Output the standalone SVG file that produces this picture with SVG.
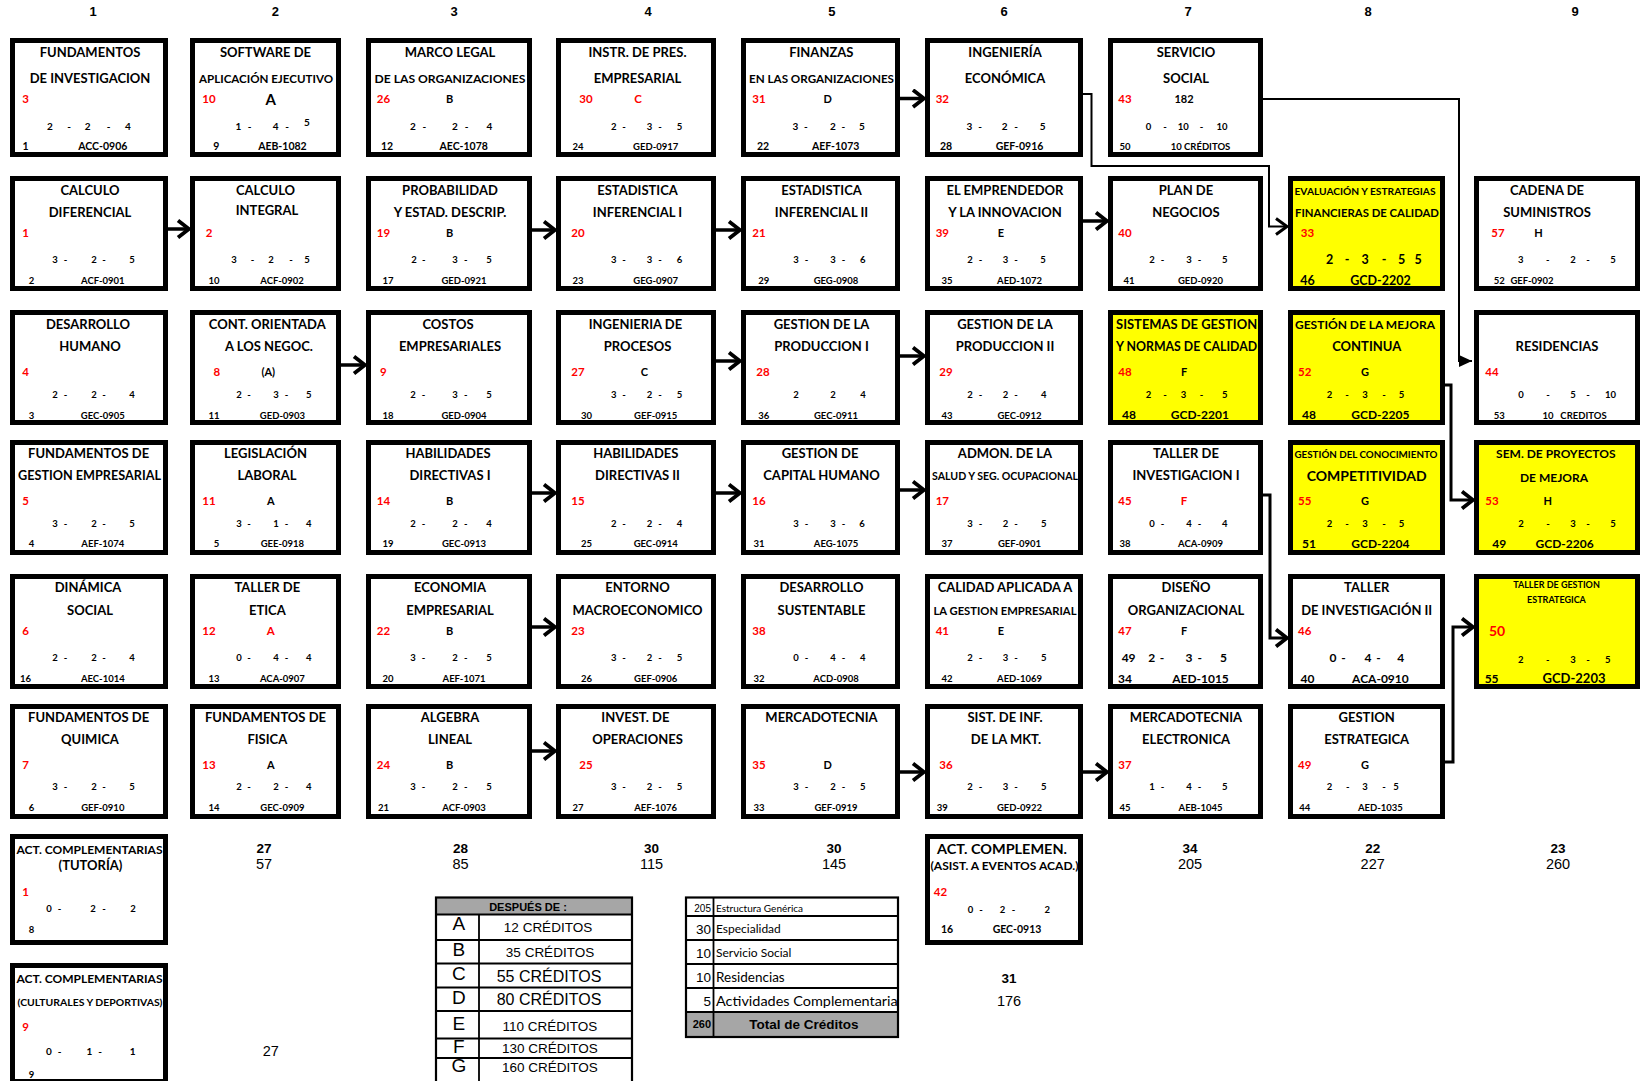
<svg xmlns="http://www.w3.org/2000/svg" width="1642" height="1081" viewBox="0 0 1642 1081">
<style>
.bx{fill:#fff;stroke:#000;stroke-width:5}
.yl{fill:#ff0}
.n text{font-family:Lato,Carlito,"Liberation Sans",sans-serif;font-weight:bold;text-anchor:middle;fill:#000}
.t{font-size:13px}
.s{font-size:11.5px}
.r{font-size:11.5px;fill:#f00 !important}
.l{font-size:11px}
.c{font-size:10px}
.cs{font-size:9.5px}
.b{font-size:10.5px}
.bs{font-size:9.5px}
.c2{font-size:12.5px}
.hd{font-family:"Liberation Sans",Arial,sans-serif;font-weight:bold;font-size:13px;text-anchor:middle}
.tb{font-family:"Liberation Sans",Arial,sans-serif;font-weight:bold;font-size:13.5px;text-anchor:middle}
.tr{font-family:"Liberation Sans",Arial,sans-serif;font-size:14.5px;text-anchor:middle}
.ar{fill:none;stroke:#000;stroke-width:3.5;marker-end:url(#ah)}
.el{fill:none;stroke:#000;stroke-width:3;marker-end:url(#ah)}
.th{fill:none;stroke:#000;stroke-width:1.8}
.ta{font-family:"Liberation Sans",Arial,sans-serif}
.tc{font-family:Lato,Carlito,sans-serif}
</style>
<defs>
<marker id="ah" viewBox="0 0 16 20" refX="13" refY="10" markerWidth="16" markerHeight="20" markerUnits="userSpaceOnUse" orient="auto"><path d="M2,1.5 L13,10 L2,18.5" fill="none" stroke="#000" stroke-width="3.8"/></marker>
<marker id="ah2" viewBox="0 0 16 20" refX="13" refY="10" markerWidth="16" markerHeight="20" markerUnits="userSpaceOnUse" orient="auto"><path d="M2,2 L13,10 L2,18" fill="none" stroke="#000" stroke-width="3"/></marker>
<marker id="tri" viewBox="0 0 13 12" refX="13" refY="6" markerWidth="13" markerHeight="12" markerUnits="userSpaceOnUse" orient="auto"><path d="M0,0 L13,6 L0,12 z" fill="#000"/></marker>
<clipPath id="t2clip"><rect x="686" y="897" width="211" height="140"/></clipPath>
</defs>
<rect width="1642" height="1081" fill="#fff"/>

<g id="headers" class="hd">
<text x="93" y="16.3">1</text><text x="275.3" y="16.3">2</text><text x="454.2" y="16.3">3</text><text x="648" y="16.3">4</text><text x="831.8" y="16.3">5</text><text x="1004" y="16.3">6</text><text x="1188" y="16.3">7</text><text x="1368" y="16.3">8</text><text x="1575" y="16.3">9</text>
</g>

<!-- ROW 1 -->
<g id="n-fund-inv" class="n" transform="translate(10,38)"><rect class="bx" x="2.5" y="2.5" width="153" height="114"/>
<text class="t" x="80" y="19.4">FUNDAMENTOS</text><text class="t" x="80" y="44.5">DE INVESTIGACION</text>
<text class="r" x="15.6" y="64.8">3</text>
<text class="c" y="91.6"><tspan x="40">2</tspan><tspan x="59">-</tspan><tspan x="77.7">2</tspan><tspan x="98.7">-</tspan><tspan x="118">4</tspan></text>
<text class="b" y="111.7"><tspan x="15.6">1</tspan><tspan x="92.8">ACC-0906</tspan></text></g>

<g id="n-software" class="n" transform="translate(190,38)"><rect class="bx" x="2.5" y="2.5" width="146" height="114"/>
<text class="t" x="75.5" y="19.4">SOFTWARE DE</text><text class="s" x="76" y="44.5" textLength="134" lengthAdjust="spacingAndGlyphs">APLICACIÓN EJECUTIVO</text>
<text class="r" x="19" y="64.8">10</text><text x="80.8" y="66.5" style="font-size:15px">A</text>
<text class="c" y="91.6"><tspan x="48.5">1</tspan><tspan x="59.7">-</tspan><tspan x="85.7">4</tspan><tspan x="97">-</tspan><tspan x="117" dy="-3.5">5</tspan></text>
<text class="b" y="111.7"><tspan x="26.4">9</tspan><tspan x="92.4">AEB-1082</tspan></text></g>

<g id="n-marco" class="n" transform="translate(366,38)"><rect class="bx" x="2.5" y="2.5" width="161" height="114"/>
<text class="t" x="84" y="19.4">MARCO LEGAL</text><text class="s" x="84" y="44.5" textLength="151" lengthAdjust="spacingAndGlyphs">DE LAS ORGANIZACIONES</text>
<text class="r" x="17.4" y="64.8">26</text><text class="l" x="83.7" y="64.8">B</text>
<text class="c" y="91.6"><tspan x="46.8">2</tspan><tspan x="58.4">-</tspan><tspan x="89">2</tspan><tspan x="100.5">-</tspan><tspan x="123.3">4</tspan></text>
<text class="b" y="111.7"><tspan x="21">12</tspan><tspan x="97.7">AEC-1078</tspan></text></g>

<g id="n-instr" class="n" transform="translate(556,38)"><rect class="bx" x="2.5" y="2.5" width="155" height="114"/>
<text class="t" x="81.5" y="19.4">INSTR. DE PRES.</text><text class="t" x="81.5" y="44.5">EMPRESARIAL</text>
<text class="r" x="30" y="64.8">30</text><text class="r" x="82" y="64.8">C</text>
<text class="cs" y="91.6"><tspan x="57.7">2</tspan><tspan x="68">-</tspan><tspan x="93.4">3</tspan><tspan x="104">-</tspan><tspan x="123.6">5</tspan></text>
<text class="bs" y="111.7"><tspan x="21.9">24</tspan><tspan x="99.7">GED-0917</tspan></text></g>

<g id="n-finanzas" class="n" transform="translate(741,38)"><rect class="bx" x="2.5" y="2.5" width="154" height="114"/>
<text class="t" x="80.3" y="19.4">FINANZAS</text><text class="s" x="80.5" y="44.5" textLength="145" lengthAdjust="spacingAndGlyphs">EN LAS ORGANIZACIONES</text>
<text class="r" x="17.9" y="64.8">31</text><text class="l" x="86.6" y="64.8">D</text>
<text class="c" y="91.6"><tspan x="54.3">3</tspan><tspan x="64.9">-</tspan><tspan x="91.9">2</tspan><tspan x="102.4">-</tspan><tspan x="121">5</tspan></text>
<text class="b" y="111.7"><tspan x="22">22</tspan><tspan x="94.7">AEF-1073</tspan></text></g>

<g id="n-ingeco" class="n" transform="translate(925,38)"><rect class="bx" x="2.5" y="2.5" width="153" height="114"/>
<text class="t" x="80" y="19.4">INGENIERÍA</text><text class="t" x="80" y="44.5">ECONÓMICA</text>
<text class="r" x="17.3" y="64.8">32</text>
<text class="c" y="91.6"><tspan x="44.3">3</tspan><tspan x="55">-</tspan><tspan x="79.7">2</tspan><tspan x="91">-</tspan><tspan x="117.6">5</tspan></text>
<text class="b" y="111.7"><tspan x="21">28</tspan><tspan x="94.5">GEF-0916</tspan></text></g>

<g id="n-servicio" class="n" transform="translate(1108,38)"><rect class="bx" x="2.5" y="2.5" width="150" height="114"/>
<text class="t" x="78" y="19.4">SERVICIO</text><text class="t" x="78" y="44.5">SOCIAL</text>
<text class="r" x="17" y="64.8">43</text><text class="l" x="76" y="64.8">182</text>
<text class="cs" y="91.6"><tspan x="40.6">0</tspan><tspan x="57">-</tspan><tspan x="75.3">10</tspan><tspan x="93.5">-</tspan><tspan x="114">10</tspan></text>
<text class="bs" y="111.7"><tspan x="17">50</tspan><tspan x="92.5">10 CRÉDITOS</tspan></text></g>

<!-- ROW 2 -->
<g id="n-calcdif" class="n" transform="translate(10,176)"><rect class="bx" x="2.5" y="2.5" width="153" height="110"/>
<text class="t" x="80" y="19.3">CALCULO</text><text class="t" x="80" y="41.3">DIFERENCIAL</text>
<text class="r" x="15.6" y="60.6">1</text>
<text class="cs" y="87.3"><tspan x="45">3</tspan><tspan x="55.6">-</tspan><tspan x="84">2</tspan><tspan x="94">-</tspan><tspan x="122">5</tspan></text>
<text class="bs" y="108.4"><tspan x="21.6">2</tspan><tspan x="92.8">ACF-0901</tspan></text></g>

<g id="n-calcint" class="n" transform="translate(190,176)"><rect class="bx" x="2.5" y="2.5" width="146" height="110"/>
<text class="t" x="75.5" y="19.3">CALCULO</text><text class="t" x="77" y="38.7">INTEGRAL</text>
<text class="r" x="19" y="60.6">2</text>
<text class="cs" y="87.3"><tspan x="44">3</tspan><tspan x="62.5">-</tspan><tspan x="81">2</tspan><tspan x="101">-</tspan><tspan x="117">5</tspan></text>
<text class="bs" y="108.4"><tspan x="24">10</tspan><tspan x="92">ACF-0902</tspan></text></g>

<g id="n-prob" class="n" transform="translate(366,176)"><rect class="bx" x="2.5" y="2.5" width="161" height="110"/>
<text class="t" x="84" y="19.3">PROBABILIDAD</text><text class="t" x="84" y="41.3">Y ESTAD. DESCRIP.</text>
<text class="r" x="17.4" y="60.6">19</text><text class="l" x="83.7" y="60.6">B</text>
<text class="cs" y="87.3"><tspan x="48">2</tspan><tspan x="57.7">-</tspan><tspan x="89">3</tspan><tspan x="99.8">-</tspan><tspan x="123">5</tspan></text>
<text class="bs" y="108.4"><tspan x="22">17</tspan><tspan x="98">GED-0921</tspan></text></g>

<g id="n-estinf1" class="n" transform="translate(556,176)"><rect class="bx" x="2.5" y="2.5" width="155" height="110"/>
<text class="t" x="81.5" y="19.3">ESTADISTICA</text><text class="t" x="81.5" y="41.3">INFERENCIAL I</text>
<text class="r" x="21.9" y="60.6">20</text>
<text class="cs" y="87.3"><tspan x="57.7">3</tspan><tspan x="68">-</tspan><tspan x="93.4">3</tspan><tspan x="104">-</tspan><tspan x="123.6">6</tspan></text>
<text class="bs" y="108.4"><tspan x="21.9">23</tspan><tspan x="99.7">GEG-0907</tspan></text></g>

<g id="n-estinf2" class="n" transform="translate(741,176)"><rect class="bx" x="2.5" y="2.5" width="154" height="110"/>
<text class="t" x="80.5" y="19.3">ESTADISTICA</text><text class="t" x="80.5" y="41.3">INFERENCIAL II</text>
<text class="r" x="17.9" y="60.6">21</text>
<text class="cs" y="87.3"><tspan x="55">3</tspan><tspan x="65.5">-</tspan><tspan x="92">3</tspan><tspan x="102.4">-</tspan><tspan x="121.7">6</tspan></text>
<text class="bs" y="108.4"><tspan x="22.8">29</tspan><tspan x="95">GEG-0908</tspan></text></g>

<g id="n-emprend" class="n" transform="translate(925,176)"><rect class="bx" x="2.5" y="2.5" width="153" height="110"/>
<text class="t" x="80" y="19.3">EL EMPRENDEDOR</text><text class="t" x="80" y="41.3">Y LA INNOVACION</text>
<text class="r" x="17.3" y="60.6">39</text><text class="l" x="76" y="60.6">E</text>
<text class="cs" y="87.3"><tspan x="45">2</tspan><tspan x="55.5">-</tspan><tspan x="80.5">3</tspan><tspan x="91">-</tspan><tspan x="118">5</tspan></text>
<text class="bs" y="108.4"><tspan x="21.9">35</tspan><tspan x="94.5">AED-1072</tspan></text></g>

<g id="n-plan" class="n" transform="translate(1108,176)"><rect class="bx" x="2.5" y="2.5" width="150" height="110"/>
<text class="t" x="78" y="19.3">PLAN DE</text><text class="t" x="78" y="41.3">NEGOCIOS</text>
<text class="r" x="17" y="60.6">40</text>
<text class="cs" y="87.3"><tspan x="44">2</tspan><tspan x="54.6">-</tspan><tspan x="81">3</tspan><tspan x="91.4">-</tspan><tspan x="116.7">5</tspan></text>
<text class="bs" y="108.4"><tspan x="21">41</tspan><tspan x="92.5">GED-0920</tspan></text></g>

<g id="n-evaluacion" class="n" transform="translate(1288,176)"><rect class="bx yl" x="2.5" y="2.5" width="152" height="110"/>
<text x="77" y="18.5" style="font-size:10px" textLength="141" lengthAdjust="spacingAndGlyphs">EVALUACIÓN Y ESTRATEGIAS</text><text class="s" x="79" y="41.3" textLength="144" lengthAdjust="spacingAndGlyphs">FINANCIERAS DE CALIDAD</text>
<text class="r" x="19.5" y="60.6">33</text>
<text class="c2" y="88"><tspan x="41.6">2</tspan><tspan x="59">-</tspan><tspan x="77">3</tspan><tspan x="96">-</tspan><tspan x="113.5">5</tspan><tspan x="130">5</tspan></text>
<text class="c2" y="109"><tspan x="19.5">46</tspan><tspan x="92.4">GCD-2202</tspan></text></g>

<g id="n-cadena" class="n" transform="translate(1474,176)"><rect class="bx" x="2.5" y="2.5" width="161" height="110"/>
<text class="t" x="73" y="19.3">CADENA DE</text><text class="t" x="73" y="41.3">SUMINISTROS</text>
<text class="r" x="24" y="60.6">57</text><text class="l" x="64.6" y="60.6">H</text>
<text class="cs" y="87.3"><tspan x="46.7">3</tspan><tspan x="73.7">-</tspan><tspan x="99">2</tspan><tspan x="114">-</tspan><tspan x="139">5</tspan></text>
<text class="bs" y="108.4"><tspan x="25.3">52</tspan><tspan x="58">GEF-0902</tspan></text></g>

<!-- ROW 3 -->
<g id="n-deshum" class="n" transform="translate(10,310)"><rect class="bx" x="2.5" y="2.5" width="153" height="110"/>
<text class="t" x="78" y="19.3">DESARROLLO</text><text class="t" x="80" y="41.3">HUMANO</text>
<text class="r" x="15.6" y="65.9">4</text>
<text class="cs" y="88.4"><tspan x="45">2</tspan><tspan x="55.6">-</tspan><tspan x="84">2</tspan><tspan x="94">-</tspan><tspan x="122">4</tspan></text>
<text class="bs" y="108.5"><tspan x="21.6">3</tspan><tspan x="92.8">GEC-0905</tspan></text></g>

<g id="n-contor" class="n" transform="translate(190,310)"><rect class="bx" x="2.5" y="2.5" width="146" height="110"/>
<text class="t" x="77.3" y="19.3">CONT. ORIENTADA</text><text class="t" x="79" y="41.3">A LOS NEGOC.</text>
<text class="r" x="26.8" y="65.9">8</text><text class="l" x="78.3" y="65.9">(A)</text>
<text class="cs" y="88.4"><tspan x="49">2</tspan><tspan x="59">-</tspan><tspan x="86">3</tspan><tspan x="96.6">-</tspan><tspan x="118.7">5</tspan></text>
<text class="bs" y="108.5"><tspan x="24">11</tspan><tspan x="92.4">GED-0903</tspan></text></g>

<g id="n-costos" class="n" transform="translate(366,310)"><rect class="bx" x="2.5" y="2.5" width="161" height="110"/>
<text class="t" x="82" y="19.3">COSTOS</text><text class="t" x="84" y="41.3">EMPRESARIALES</text>
<text class="r" x="17.4" y="65.9">9</text>
<text class="cs" y="88.4"><tspan x="47">2</tspan><tspan x="57.4">-</tspan><tspan x="89">3</tspan><tspan x="99.8">-</tspan><tspan x="123">5</tspan></text>
<text class="bs" y="108.5"><tspan x="22">18</tspan><tspan x="98">GED-0904</tspan></text></g>

<g id="n-ingproc" class="n" transform="translate(556,310)"><rect class="bx" x="2.5" y="2.5" width="155" height="110"/>
<text class="t" x="79.4" y="19.3">INGENIERIA DE</text><text class="t" x="81.5" y="41.3">PROCESOS</text>
<text class="r" x="21.9" y="65.9">27</text><text class="l" x="88.5" y="65.9">C</text>
<text class="cs" y="88.4"><tspan x="57.7">3</tspan><tspan x="68">-</tspan><tspan x="93.4">2</tspan><tspan x="104">-</tspan><tspan x="123.6">5</tspan></text>
<text class="bs" y="108.5"><tspan x="30.6">30</tspan><tspan x="99.7">GEF-0915</tspan></text></g>

<g id="n-prod1" class="n" transform="translate(741,310)"><rect class="bx" x="2.5" y="2.5" width="154" height="110"/>
<text class="t" x="80.5" y="19.3">GESTION DE LA</text><text class="t" x="80.5" y="41.3">PRODUCCION I</text>
<text class="r" x="22" y="65.9">28</text>
<text class="cs" y="88.4"><tspan x="55">2</tspan><tspan x="92">2</tspan><tspan x="122">4</tspan></text>
<text class="bs" y="108.5"><tspan x="22.8">36</tspan><tspan x="95">GEC-0911</tspan></text></g>

<g id="n-prod2" class="n" transform="translate(925,310)"><rect class="bx" x="2.5" y="2.5" width="153" height="110"/>
<text class="t" x="80" y="19.3">GESTION DE LA</text><text class="t" x="80" y="41.3">PRODUCCION II</text>
<text class="r" x="21" y="65.9">29</text>
<text class="cs" y="88.4"><tspan x="45">2</tspan><tspan x="55.5">-</tspan><tspan x="80.5">2</tspan><tspan x="91">-</tspan><tspan x="118.7">4</tspan></text>
<text class="bs" y="108.5"><tspan x="21.9">43</tspan><tspan x="94.5">GEC-0912</tspan></text></g>

<g id="n-sistemas" class="n" transform="translate(1108,310)"><rect class="bx yl" x="2.5" y="2.5" width="150" height="110"/>
<text class="t" x="78.6" y="19.3" textLength="141" lengthAdjust="spacingAndGlyphs">SISTEMAS DE GESTION</text><text class="t" x="78.6" y="41.3" textLength="141" lengthAdjust="spacingAndGlyphs">Y NORMAS DE CALIDAD</text>
<text class="r" x="17" y="65.9">48</text><text class="l" x="76" y="65.9">F</text>
<text class="cs" y="88.4"><tspan x="40.6">2</tspan><tspan x="57">-</tspan><tspan x="75.6">3</tspan><tspan x="93.5">-</tspan><tspan x="116.7">5</tspan></text>
<text style="font-size:12px" y="109"><tspan x="21">48</tspan><tspan x="91.8">GCD-2201</tspan></text></g>

<g id="n-mejora" class="n" transform="translate(1288,310)"><rect class="bx yl" x="2.5" y="2.5" width="152" height="110"/>
<text class="s" x="77" y="19.3" textLength="140" lengthAdjust="spacingAndGlyphs">GESTIÓN  DE LA MEJORA</text><text class="t" x="78.7" y="41.3">CONTINUA</text>
<text class="r" x="16.7" y="65.9">52</text><text class="l" x="77" y="65.9">G</text>
<text class="cs" y="88.4"><tspan x="41.6">2</tspan><tspan x="59">-</tspan><tspan x="77">3</tspan><tspan x="96">-</tspan><tspan x="113.5">5</tspan></text>
<text style="font-size:12px" y="109"><tspan x="20.9">48</tspan><tspan x="92.4">GCD-2205</tspan></text></g>

<g id="n-residencias" class="n" transform="translate(1474,310)"><rect class="bx" x="2.5" y="2.5" width="161" height="110"/>
<text class="t" x="83" y="41.3">RESIDENCIAS</text>
<text class="r" x="18" y="65.9">44</text>
<text class="cs" y="88.4"><tspan x="47">0</tspan><tspan x="74">-</tspan><tspan x="99">5</tspan><tspan x="114">-</tspan><tspan x="136.5">10</tspan></text>
<text class="bs" y="108.5"><tspan x="25.3">53</tspan><tspan x="74">10</tspan><tspan x="109.5">CREDITOS</tspan></text></g>

<!-- ROW 4 -->
<g id="n-fundgest" class="n" transform="translate(10,440)"><rect class="bx" x="2.5" y="2.5" width="153" height="110"/>
<text class="t" x="78.6" y="18.1">FUNDAMENTOS DE</text><text class="t" x="79.5" y="40.1" textLength="143" lengthAdjust="spacingAndGlyphs">GESTION EMPRESARIAL</text>
<text class="r" x="15.6" y="64.7">5</text>
<text class="cs" y="87.2"><tspan x="45">3</tspan><tspan x="55.6">-</tspan><tspan x="84">2</tspan><tspan x="94">-</tspan><tspan x="122">5</tspan></text>
<text class="bs" y="107.3"><tspan x="21.6">4</tspan><tspan x="92.8">AEF-1074</tspan></text></g>

<g id="n-legis" class="n" transform="translate(190,440)"><rect class="bx" x="2.5" y="2.5" width="146" height="110"/>
<text class="t" x="75.5" y="18.1">LEGISLACIÓN</text><text class="t" x="77" y="40.1">LABORAL</text>
<text class="r" x="19" y="64.7">11</text><text class="l" x="80.8" y="64.7">A</text>
<text class="cs" y="87.2"><tspan x="49">3</tspan><tspan x="59">-</tspan><tspan x="86">1</tspan><tspan x="96.6">-</tspan><tspan x="118.7">4</tspan></text>
<text class="bs" y="107.3"><tspan x="26.4">5</tspan><tspan x="92.4">GEE-0918</tspan></text></g>

<g id="n-habdir1" class="n" transform="translate(366,440)"><rect class="bx" x="2.5" y="2.5" width="161" height="110"/>
<text class="t" x="82" y="18.1">HABILIDADES</text><text class="t" x="84" y="40.1">DIRECTIVAS I</text>
<text class="r" x="17.4" y="64.7">14</text><text class="l" x="83.7" y="64.7">B</text>
<text class="cs" y="87.2"><tspan x="47">2</tspan><tspan x="57.4">-</tspan><tspan x="89">2</tspan><tspan x="99.8">-</tspan><tspan x="123">4</tspan></text>
<text class="bs" y="107.3"><tspan x="22">19</tspan><tspan x="98">GEC-0913</tspan></text></g>

<g id="n-habdir2" class="n" transform="translate(556,440)"><rect class="bx" x="2.5" y="2.5" width="155" height="110"/>
<text class="t" x="79.8" y="18.1">HABILIDADES</text><text class="t" x="81.5" y="40.1">DIRECTIVAS II</text>
<text class="r" x="21.9" y="64.7">15</text>
<text class="cs" y="87.2"><tspan x="57.7">2</tspan><tspan x="68">-</tspan><tspan x="93.4">2</tspan><tspan x="104">-</tspan><tspan x="123.6">4</tspan></text>
<text class="bs" y="107.3"><tspan x="30.6">25</tspan><tspan x="99.7">GEC-0914</tspan></text></g>

<g id="n-caphum" class="n" transform="translate(741,440)"><rect class="bx" x="2.5" y="2.5" width="154" height="110"/>
<text class="t" x="79" y="18.1">GESTION DE</text><text class="t" x="80.5" y="40.1">CAPITAL HUMANO</text>
<text class="r" x="17.9" y="64.7">16</text>
<text class="cs" y="87.2"><tspan x="55">3</tspan><tspan x="65.5">-</tspan><tspan x="92">3</tspan><tspan x="102.4">-</tspan><tspan x="121">6</tspan></text>
<text class="bs" y="107.3"><tspan x="17.9">31</tspan><tspan x="95">AEG-1075</tspan></text></g>

<g id="n-admon" class="n" transform="translate(925,440)"><rect class="bx" x="2.5" y="2.5" width="153" height="110"/>
<text class="t" x="80" y="18.1">ADMON. DE LA</text><text class="s" x="80" y="40.1" textLength="146" lengthAdjust="spacingAndGlyphs">SALUD Y SEG. OCUPACIONAL</text>
<text class="r" x="17.3" y="64.7">17</text>
<text class="cs" y="87.2"><tspan x="45">3</tspan><tspan x="55.5">-</tspan><tspan x="80.5">2</tspan><tspan x="91">-</tspan><tspan x="118.7">5</tspan></text>
<text class="bs" y="107.3"><tspan x="21.9">37</tspan><tspan x="94.5">GEF-0901</tspan></text></g>

<g id="n-tallinv1" class="n" transform="translate(1108,440)"><rect class="bx" x="2.5" y="2.5" width="150" height="110"/>
<text class="t" x="78" y="18.1">TALLER DE</text><text class="t" x="78" y="40.1">INVESTIGACION I</text>
<text class="r" x="17" y="64.7">45</text><text class="r" x="76" y="64.7">F</text>
<text class="cs" y="87.2"><tspan x="44">0</tspan><tspan x="54.6">-</tspan><tspan x="81">4</tspan><tspan x="91.4">-</tspan><tspan x="116.7">4</tspan></text>
<text class="bs" y="107.3"><tspan x="17">38</tspan><tspan x="92.5">ACA-0909</tspan></text></g>

<g id="n-conocimiento" class="n" transform="translate(1288,440)"><rect class="bx yl" x="2.5" y="2.5" width="152" height="110"/>
<text x="78" y="17.5" style="font-size:10px" textLength="143" lengthAdjust="spacingAndGlyphs">GESTIÓN DEL CONOCIMIENTO</text><text x="78.7" y="40.6" style="font-size:14px">COMPETITIVIDAD</text>
<text class="r" x="16.7" y="64.7">55</text><text class="l" x="77" y="64.7">G</text>
<text class="cs" y="87.2"><tspan x="41.6">2</tspan><tspan x="59">-</tspan><tspan x="77">3</tspan><tspan x="96">-</tspan><tspan x="113.5">5</tspan></text>
<text style="font-size:12px" y="108"><tspan x="20.9">51</tspan><tspan x="92.4">GCD-2204</tspan></text></g>

<g id="n-semproy" class="n" transform="translate(1474,440)"><rect class="bx yl" x="2.5" y="2.5" width="161" height="110"/>
<text x="81.8" y="18.3" style="font-size:12px">SEM. DE PROYECTOS</text><text x="80" y="42.3" style="font-size:12px">DE MEJORA</text>
<text class="r" x="18" y="64.7">53</text><text class="l" x="73.7" y="64.7">H</text>
<text class="cs" y="87.2"><tspan x="47">2</tspan><tspan x="74">-</tspan><tspan x="99">3</tspan><tspan x="114">-</tspan><tspan x="139">5</tspan></text>
<text style="font-size:12px" y="108"><tspan x="25.3">49</tspan><tspan x="90.6">GCD-2206</tspan></text></g>

<!-- ROW 5 -->
<g id="n-dinamica" class="n" transform="translate(10,574)"><rect class="bx" x="2.5" y="2.5" width="153" height="110"/>
<text class="t" x="78" y="18.2">DINÁMICA</text><text class="t" x="80" y="41.2">SOCIAL</text>
<text class="r" x="15.6" y="60.5">6</text>
<text class="cs" y="87.2"><tspan x="45">2</tspan><tspan x="55.6">-</tspan><tspan x="84">2</tspan><tspan x="94">-</tspan><tspan x="122">4</tspan></text>
<text class="bs" y="108.4"><tspan x="15.6">16</tspan><tspan x="92.8">AEC-1014</tspan></text></g>

<g id="n-etica" class="n" transform="translate(190,574)"><rect class="bx" x="2.5" y="2.5" width="146" height="110"/>
<text class="t" x="77.3" y="18.2">TALLER DE</text><text class="t" x="77.3" y="41.2">ETICA</text>
<text class="r" x="19" y="60.5">12</text><text class="r" x="80.8" y="60.5">A</text>
<text class="cs" y="87.2"><tspan x="49">0</tspan><tspan x="59">-</tspan><tspan x="86">4</tspan><tspan x="96.6">-</tspan><tspan x="118.7">4</tspan></text>
<text class="bs" y="108.4"><tspan x="24">13</tspan><tspan x="92.4">ACA-0907</tspan></text></g>

<g id="n-econemp" class="n" transform="translate(366,574)"><rect class="bx" x="2.5" y="2.5" width="161" height="110"/>
<text class="t" x="84" y="18.2">ECONOMIA</text><text class="t" x="84" y="41.2">EMPRESARIAL</text>
<text class="r" x="17.4" y="60.5">22</text><text class="l" x="83.7" y="60.5">B</text>
<text class="cs" y="87.2"><tspan x="47">3</tspan><tspan x="57.4">-</tspan><tspan x="89">2</tspan><tspan x="99.8">-</tspan><tspan x="123">5</tspan></text>
<text class="bs" y="108.4"><tspan x="22">20</tspan><tspan x="98">AEF-1071</tspan></text></g>

<g id="n-entorno" class="n" transform="translate(556,574)"><rect class="bx" x="2.5" y="2.5" width="155" height="110"/>
<text class="t" x="81.5" y="18.2">ENTORNO</text><text class="t" x="81.5" y="41.2">MACROECONOMICO</text>
<text class="r" x="21.9" y="60.5">23</text>
<text class="cs" y="87.2"><tspan x="57.7">3</tspan><tspan x="68">-</tspan><tspan x="93.4">2</tspan><tspan x="104">-</tspan><tspan x="123.6">5</tspan></text>
<text class="bs" y="108.4"><tspan x="30.6">26</tspan><tspan x="99.7">GEF-0906</tspan></text></g>

<g id="n-dessust" class="n" transform="translate(741,574)"><rect class="bx" x="2.5" y="2.5" width="154" height="110"/>
<text class="t" x="80.5" y="18.2">DESARROLLO</text><text class="t" x="80.5" y="41.2">SUSTENTABLE</text>
<text class="r" x="17.9" y="60.5">38</text>
<text class="cs" y="87.2"><tspan x="55">0</tspan><tspan x="65.5">-</tspan><tspan x="92">4</tspan><tspan x="102.4">-</tspan><tspan x="121.7">4</tspan></text>
<text class="bs" y="108.4"><tspan x="17.9">32</tspan><tspan x="95">ACD-0908</tspan></text></g>

<g id="n-calidad" class="n" transform="translate(925,574)"><rect class="bx" x="2.5" y="2.5" width="153" height="110"/>
<text class="t" x="80" y="18.2">CALIDAD APLICADA A</text><text class="s" x="80" y="41.2" textLength="143" lengthAdjust="spacingAndGlyphs">LA GESTION EMPRESARIAL</text>
<text class="r" x="17.3" y="60.5">41</text><text class="l" x="76" y="60.5">E</text>
<text class="cs" y="87.2"><tspan x="45">2</tspan><tspan x="55.5">-</tspan><tspan x="80.5">3</tspan><tspan x="91">-</tspan><tspan x="118.7">5</tspan></text>
<text class="bs" y="108.4"><tspan x="21.9">42</tspan><tspan x="94.5">AED-1069</tspan></text></g>

<g id="n-diseno" class="n" transform="translate(1108,574)"><rect class="bx" x="2.5" y="2.5" width="150" height="110"/>
<text class="t" x="78" y="18.2">DISEÑO</text><text class="t" x="78" y="41.2">ORGANIZACIONAL</text>
<text class="r" x="17" y="60.5">47</text><text class="l" x="76" y="60.5">F</text>
<text style="font-size:12px" y="88"><tspan x="20.6">49</tspan><tspan x="43.7">2</tspan><tspan x="54">-</tspan><tspan x="81">3</tspan><tspan x="91.8">-</tspan><tspan x="115.6">5</tspan></text>
<text style="font-size:12px" y="109"><tspan x="17">34</tspan><tspan x="92.5">AED-1015</tspan></text></g>

<g id="n-tallinv2" class="n" transform="translate(1288,574)"><rect class="bx" x="2.5" y="2.5" width="152" height="110"/>
<text class="t" x="78.7" y="18.2">TALLER</text><text class="t" x="78.7" y="41.2" textLength="131" lengthAdjust="spacingAndGlyphs">DE INVESTIGACIÓN II</text>
<text class="r" x="16.7" y="60.5">46</text>
<text style="font-size:12px" y="88"><tspan x="45">0</tspan><tspan x="55.5">-</tspan><tspan x="80">4</tspan><tspan x="90.5">-</tspan><tspan x="112.8">4</tspan></text>
<text style="font-size:12px" y="109"><tspan x="19.5">40</tspan><tspan x="92.4">ACA-0910</tspan></text></g>

<g id="n-tallgest" class="n" transform="translate(1474,574)"><rect class="bx yl" x="2.5" y="2.5" width="161" height="110"/>
<text x="82.5" y="13.5" style="font-size:9px">TALLER DE GESTION</text><text x="82.5" y="28.5" style="font-size:9px">ESTRATEGICA</text>
<text class="r" x="23" y="61.5" style="font-size:14px">50</text>
<text class="cs" y="88.6"><tspan x="46.7">2</tspan><tspan x="73.7">-</tspan><tspan x="99">3</tspan><tspan x="114">-</tspan><tspan x="133.7">5</tspan></text>
<text style="font-size:12px" y="109"><tspan x="17.6">55</tspan><tspan x="100" style="font-size:13px">GCD-2203</tspan></text></g>

<!-- ROW 6 -->
<g id="n-quimica" class="n" transform="translate(10,704)"><rect class="bx" x="2.5" y="2.5" width="153" height="110"/>
<text class="t" x="78.6" y="18">FUNDAMENTOS DE</text><text class="t" x="80" y="40">QUIMICA</text>
<text class="r" x="15.6" y="64.6">7</text>
<text class="cs" y="86"><tspan x="45">3</tspan><tspan x="55.6">-</tspan><tspan x="84">2</tspan><tspan x="94">-</tspan><tspan x="122">5</tspan></text>
<text class="bs" y="107.2"><tspan x="21.6">6</tspan><tspan x="92.8">GEF-0910</tspan></text></g>

<g id="n-fisica" class="n" transform="translate(190,704)"><rect class="bx" x="2.5" y="2.5" width="146" height="110"/>
<text class="t" x="75.5" y="18">FUNDAMENTOS DE</text><text class="t" x="77.3" y="40">FISICA</text>
<text class="r" x="19" y="64.6">13</text><text class="l" x="80.8" y="64.6">A</text>
<text class="cs" y="86"><tspan x="49">2</tspan><tspan x="59">-</tspan><tspan x="86">2</tspan><tspan x="96.6">-</tspan><tspan x="118.7">4</tspan></text>
<text class="bs" y="107.2"><tspan x="24">14</tspan><tspan x="92.4">GEC-0909</tspan></text></g>

<g id="n-algebra" class="n" transform="translate(366,704)"><rect class="bx" x="2.5" y="2.5" width="161" height="110"/>
<text class="t" x="84" y="18">ALGEBRA</text><text class="t" x="84" y="40">LINEAL</text>
<text class="r" x="17.4" y="64.6">24</text><text class="l" x="83.7" y="64.6">B</text>
<text class="cs" y="86"><tspan x="47">3</tspan><tspan x="57.4">-</tspan><tspan x="89">2</tspan><tspan x="99.8">-</tspan><tspan x="123">5</tspan></text>
<text class="bs" y="107.2"><tspan x="17.4">21</tspan><tspan x="98">ACF-0903</tspan></text></g>

<g id="n-invop" class="n" transform="translate(556,704)"><rect class="bx" x="2.5" y="2.5" width="155" height="110"/>
<text class="t" x="79.4" y="18">INVEST. DE</text><text class="t" x="81.5" y="40">OPERACIONES</text>
<text class="r" x="30" y="64.6">25</text>
<text class="cs" y="86"><tspan x="57.7">3</tspan><tspan x="68">-</tspan><tspan x="93.4">2</tspan><tspan x="104">-</tspan><tspan x="123.6">5</tspan></text>
<text class="bs" y="107.2"><tspan x="21.9">27</tspan><tspan x="99.7">AEF-1076</tspan></text></g>

<g id="n-mercado" class="n" transform="translate(741,704)"><rect class="bx" x="2.5" y="2.5" width="154" height="110"/>
<text class="t" x="80.5" y="18">MERCADOTECNIA</text>
<text class="r" x="17.9" y="64.6">35</text><text class="l" x="86.6" y="64.6">D</text>
<text class="cs" y="86"><tspan x="55">3</tspan><tspan x="65.5">-</tspan><tspan x="92">2</tspan><tspan x="102.4">-</tspan><tspan x="121.7">5</tspan></text>
<text class="bs" y="107.2"><tspan x="17.9">33</tspan><tspan x="95">GEF-0919</tspan></text></g>

<g id="n-sistinf" class="n" transform="translate(925,704)"><rect class="bx" x="2.5" y="2.5" width="153" height="110"/>
<text class="t" x="80" y="18">SIST. DE INF.</text><text class="t" x="81" y="40">DE LA MKT.</text>
<text class="r" x="21" y="64.6">36</text>
<text class="cs" y="86"><tspan x="45">2</tspan><tspan x="55.5">-</tspan><tspan x="80.5">3</tspan><tspan x="91">-</tspan><tspan x="118.7">5</tspan></text>
<text class="bs" y="107.2"><tspan x="17.3">39</tspan><tspan x="94.5">GED-0922</tspan></text></g>

<g id="n-mercelec" class="n" transform="translate(1108,704)"><rect class="bx" x="2.5" y="2.5" width="150" height="110"/>
<text class="t" x="78" y="18">MERCADOTECNIA</text><text class="t" x="78" y="40">ELECTRONICA</text>
<text class="r" x="17" y="64.6">37</text>
<text class="cs" y="86"><tspan x="44">1</tspan><tspan x="54.6">-</tspan><tspan x="81">4</tspan><tspan x="91.4">-</tspan><tspan x="116.7">5</tspan></text>
<text class="bs" y="107.2"><tspan x="17">45</tspan><tspan x="92.5">AEB-1045</tspan></text></g>

<g id="n-gestest" class="n" transform="translate(1288,704)"><rect class="bx" x="2.5" y="2.5" width="152" height="110"/>
<text class="t" x="78.7" y="18">GESTION</text><text class="t" x="78.7" y="40">ESTRATEGICA</text>
<text class="r" x="16.7" y="64.6">49</text><text class="l" x="77" y="64.6">G</text>
<text class="cs" y="86"><tspan x="41.6">2</tspan><tspan x="59.8">-</tspan><tspan x="77">3</tspan><tspan x="96">-</tspan><tspan x="108">5</tspan></text>
<text class="bs" y="107.2"><tspan x="16.7">44</tspan><tspan x="92.4">AED-1035</tspan></text></g>

<!-- ROW 7/8 -->
<g id="n-tutoria" class="n" transform="translate(10,834)"><rect class="bx" x="2.5" y="2.5" width="153" height="106"/>
<text x="79.5" y="19.5" style="font-size:12px" textLength="146" lengthAdjust="spacingAndGlyphs">ACT. COMPLEMENTARIAS</text><text class="t" x="80.5" y="36.4">(TUTORÍA)</text>
<text class="r" x="15.6" y="61.5">1</text>
<text class="cs" y="77.6"><tspan x="39">0</tspan><tspan x="49.6">-</tspan><tspan x="83">2</tspan><tspan x="94">-</tspan><tspan x="123">2</tspan></text>
<text class="bs" y="98.8"><tspan x="21.6">8</tspan></text></g>

<g id="n-eventos" class="n" transform="translate(925,834)"><rect class="bx" x="2.5" y="2.5" width="153" height="106"/>
<text class="t" x="77" y="19.5" textLength="130" lengthAdjust="spacingAndGlyphs">ACT. COMPLEMEN.</text><text x="79.5" y="36.4" style="font-size:11.5px" textLength="148" lengthAdjust="spacingAndGlyphs">(ASIST. A EVENTOS ACAD.)</text>
<text class="r" x="15.5" y="61.5">42</text>
<text class="cs" y="78.5"><tspan x="45.4">0</tspan><tspan x="56">-</tspan><tspan x="77.6">2</tspan><tspan x="88.5">-</tspan><tspan x="122.2">2</tspan></text>
<text class="b" y="99"><tspan x="22">16</tspan><tspan x="92">GEC-0913</tspan></text></g>

<g id="n-culturales" class="n" transform="translate(10,963)"><rect class="bx" x="2.5" y="2.5" width="153" height="116"/>
<text x="79.5" y="20" style="font-size:12px" textLength="146" lengthAdjust="spacingAndGlyphs">ACT. COMPLEMENTARIAS</text><text x="80" y="42.7" style="font-size:10px" textLength="145" lengthAdjust="spacingAndGlyphs">(CULTURALES Y DEPORTIVAS)</text>
<text class="r" x="15.6" y="68">9</text>
<text class="c" y="92"><tspan x="39">0</tspan><tspan x="49.6">-</tspan><tspan x="79.4">1</tspan><tspan x="90">-</tspan><tspan x="122.6">1</tspan></text>
<text class="bs" y="115"><tspan x="21.6">9</tspan></text></g>

<!-- TOTALS -->
<g id="totals">
<text class="tb" x="264" y="852.5">27</text><text class="tr" x="264" y="869">57</text>
<text class="tb" x="460.5" y="852.5">28</text><text class="tr" x="460.5" y="869">85</text>
<text class="tb" x="651.5" y="852.5">30</text><text class="tr" x="651.5" y="869">115</text>
<text class="tb" x="834" y="852.5">30</text><text class="tr" x="834" y="869">145</text>
<text class="tb" x="1190" y="852.5">34</text><text class="tr" x="1190" y="869">205</text>
<text class="tb" x="1372.7" y="852.5">22</text><text class="tr" x="1372.7" y="869">227</text>
<text class="tb" x="1558" y="852.5">23</text><text class="tr" x="1558" y="869">260</text>
<text class="tb" x="1009" y="982.5">31</text><text class="tr" x="1009" y="1006">176</text>
<text class="tr" x="270.8" y="1055.7">27</text>
</g>

<!-- TABLE 1 -->
<g id="tabla-despues">
<rect x="436" y="897.5" width="196" height="17" fill="#a6a6a6"/>
<rect x="436" y="897.5" width="196" height="190" fill="none" stroke="#000" stroke-width="2.2"/>
<path class="th" d="M479,914.5 V1081 M436,914.5 H632 M436,940 H632 M436,963.5 H632 M436,987.5 H632 M436,1011 H632 M436,1038.5 H632 M436,1058 H632"/>
<text class="ta" x="528" y="910.5" style="font-size:11px;font-weight:bold" text-anchor="middle">DESPUÉS   DE :</text>
<g class="ta" text-anchor="middle" style="font-size:19px">
<text x="458.8" y="930">A</text><text x="458.8" y="956">B</text><text x="458.8" y="980">C</text><text x="458.8" y="1004">D</text><text x="458.8" y="1030">E</text><text x="458.8" y="1053">F</text><text x="458.8" y="1072">G</text>
</g>
<g class="ta" text-anchor="middle">
<text x="548" y="932" style="font-size:13.5px">12  CRÉDITOS</text>
<text x="550" y="957" style="font-size:13.5px">35 CRÉDITOS</text>
<text x="549" y="982" style="font-size:16px">55 CRÉDITOS</text>
<text x="549" y="1005" style="font-size:16px">80 CRÉDITOS</text>
<text x="550" y="1031" style="font-size:13.5px">110 CRÉDITOS</text>
<text x="550" y="1053" style="font-size:13.5px">130 CRÉDITOS</text>
<text x="550" y="1072" style="font-size:13.5px">160 CRÉDITOS</text>
</g>
</g>

<!-- TABLE 2 -->
<g id="tabla-creditos">
<rect x="686" y="1012" width="212" height="25" fill="#a6a6a6"/>
<rect x="686" y="897.5" width="212" height="139.5" fill="none" stroke="#000" stroke-width="2.2"/>
<path class="th" d="M713.5,897.5 V1037 M686,916 H898 M686,940 H898 M686,964 H898 M686,988 H898 M686,1012 H898"/>
<g class="ta" text-anchor="end">
<text x="711" y="912" style="font-size:10px">205</text>
<text x="711" y="934" style="font-size:13.5px">30</text>
<text x="711" y="958" style="font-size:13.5px">10</text>
<text x="711" y="982" style="font-size:13.5px">10</text>
<text x="711" y="1006" style="font-size:13.5px">5</text>
<text x="711" y="1028" style="font-size:11px;font-weight:bold">260</text>
</g>
<g class="tc" clip-path="url(#t2clip)">
<text x="716" y="911.5" style="font-size:10px">Estructura Genérica</text>
<text x="716" y="933" style="font-size:12px">Especialidad</text>
<text x="716" y="957" style="font-size:12px">Servicio Social</text>
<text x="716" y="982" style="font-size:13.5px">Residencias</text>
<text x="716" y="1006" style="font-size:14px" textLength="188" lengthAdjust="spacingAndGlyphs">Actividades Complementarias</text>
</g>
<text class="ta" x="804" y="1029" text-anchor="middle" style="font-size:13.5px;font-weight:bold">Total de Créditos</text>
</g>

<!-- CONNECTORS -->
<g id="connectors">
<path class="ar" d="M897,98.5 H924"/>
<path class="ar" d="M168,229 H189"/>
<path class="ar" d="M532,230 H555"/>
<path class="ar" d="M716,230 H740"/>
<path class="ar" d="M1083,221 H1107"/>
<path class="ar" d="M341,365 H365"/>
<path class="ar" d="M716,361 H740"/>
<path class="ar" d="M900,356 H924"/>
<path class="ar" d="M532,493 H555"/>
<path class="ar" d="M716,493 H740"/>
<path class="ar" d="M900,490 H924"/>
<path class="ar" d="M532,627 H555"/>
<path class="ar" d="M532,751 H555"/>
<path class="ar" d="M900,772 H924"/>
<path class="ar" d="M1083,772 H1107"/>
<path d="M1081,94 H1091.5 V166 H1269 V226.5 H1287" fill="none" stroke="#000" stroke-width="2" marker-end="url(#ah2)"/>
<path d="M1261,99 H1459 V361 H1472" fill="none" stroke="#000" stroke-width="2" marker-end="url(#tri)"/>
<path class="el" d="M1443,385 H1451 V500 H1473"/>
<path class="el" d="M1261,495 H1270 V638 H1287"/>
<path class="el" d="M1443,762 H1453 V627 H1473"/>
</g>
</svg>
